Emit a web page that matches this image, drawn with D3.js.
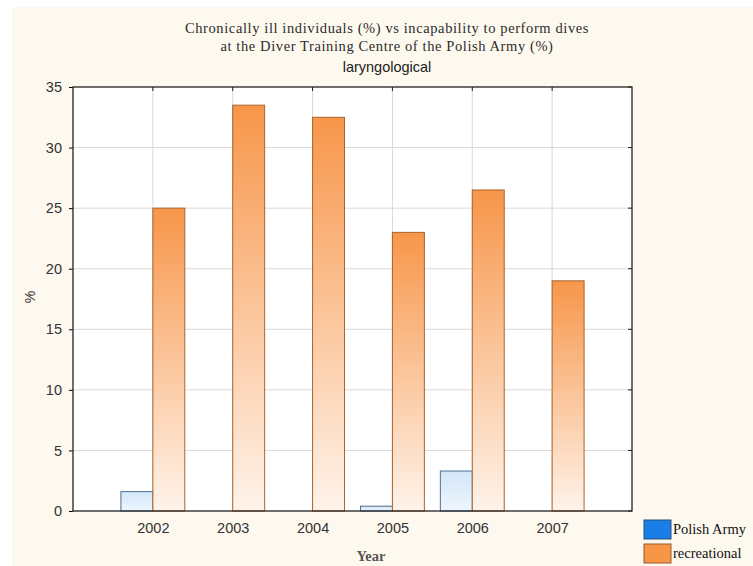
<!DOCTYPE html>
<html>
<head>
<meta charset="utf-8">
<script src="https://cdn.jsdelivr.net/npm/d3@7"></script>
<style>
  body { margin: 0; background: #fff; }
  svg { display: block; }
</style>
</head>
<body>
<div id="chart"></div>
<script>
var years = [2002, 2003, 2004, 2005, 2006, 2007];
var polishArmy = [1.6, 0, 0, 0.4, 3.3, 0];
var recreational = [25, 33.5, 32.5, 23, 26.5, 19];
var yTicks = [0, 5, 10, 15, 20, 25, 30, 35];
var seriesNames = ["Polish Army", "recreational"];

var W = 753, H = 566;
var margin = {top: 87, right: 121, bottom: 55, left: 73},
    width = W - margin.left - margin.right,
    height = H - margin.top - margin.bottom;

var svg = d3.select("#chart").append("svg")
  .attr("width", W)
  .attr("height", H);

// cream background
svg.append("rect")
  .attr("x", 12).attr("y", 7)
  .attr("width", W - 12).attr("height", H - 7)
  .attr("fill", "#fef9ef");

var defs = svg.append("defs");
var og = defs.append("linearGradient").attr("id", "gOrange")
  .attr("x1", 0).attr("y1", 0).attr("x2", 0).attr("y2", 1);
og.append("stop").attr("offset", "0%").attr("stop-color", "#f7964a");
og.append("stop").attr("offset", "100%").attr("stop-color", "#fff3ea");
var bg = defs.append("linearGradient").attr("id", "gBlue")
  .attr("x1", 0).attr("y1", 0).attr("x2", 0).attr("y2", 1);
bg.append("stop").attr("offset", "0%").attr("stop-color", "#d3e6f8");
bg.append("stop").attr("offset", "100%").attr("stop-color", "#eef6fd");

var x = d3.scaleLinear().domain([2001, 2008]).range([0, width]);
var y = d3.scaleLinear().domain([0, 35]).range([height, 0]);

var g = svg.append("g")
  .attr("transform", "translate(" + margin.left + "," + margin.top + ")");

g.append("rect")
  .attr("width", width).attr("height", height)
  .attr("fill", "#fff");

// grid
g.selectAll(".hgrid").data(yTicks.slice(1, -1)).enter().append("line")
  .attr("x1", 0).attr("x2", width)
  .attr("y1", d => y(d)).attr("y2", d => y(d))
  .attr("stroke", "#d9d9d9");
g.selectAll(".vgrid").data(years).enter().append("line")
  .attr("x1", d => x(d)).attr("x2", d => x(d))
  .attr("y1", 0).attr("y2", height)
  .attr("stroke", "#d9d9d9");

var bw = x(2001.4) - x(2001);

// bars
g.selectAll(".bar1").data(years).enter().append("rect")
  .attr("x", d => x(d) - bw)
  .attr("width", bw)
  .attr("y", (d, i) => y(polishArmy[i]))
  .attr("height", (d, i) => height - y(polishArmy[i]))
  .attr("fill", "url(#gBlue)")
  .attr("stroke", "#4f6f8f")
  .attr("stroke-width", 1)
  .style("display", (d, i) => polishArmy[i] > 0 ? null : "none");

g.selectAll(".bar2").data(years).enter().append("rect")
  .attr("x", d => x(d))
  .attr("width", bw)
  .attr("y", (d, i) => y(recreational[i]))
  .attr("height", (d, i) => height - y(recreational[i]))
  .attr("fill", "url(#gOrange)")
  .attr("stroke", "#a8652e")
  .attr("stroke-width", 1);

// axes
var yAxis = d3.axisLeft(y).tickValues(yTicks).tickSize(4).tickPadding(7);
var yg = g.append("g").call(yAxis);
yg.select(".domain").remove();
yg.selectAll("text")
  .style("font-family", "Liberation Sans, Arial, sans-serif")
  .style("font-size", "14.5px")
  .attr("fill", "#333");

var xAxis = d3.axisBottom(x).tickValues(years).tickFormat(d3.format("d")).tickSize(0).tickPadding(12);
var xg = g.append("g").attr("transform", "translate(0," + height + ")").call(xAxis);
xg.select(".domain").remove();
xg.selectAll("text")
  .style("font-family", "Liberation Sans, Arial, sans-serif")
  .style("font-size", "14.5px")
  .attr("fill", "#333");

// inner ticks on right and top
g.selectAll(".rtick").data(yTicks).enter().append("line")
  .attr("x1", width - 4).attr("x2", width)
  .attr("y1", d => y(d)).attr("y2", d => y(d))
  .attr("stroke", "#222");
g.selectAll(".ttick").data(years).enter().append("line")
  .attr("x1", d => x(d)).attr("x2", d => x(d))
  .attr("y1", 0).attr("y2", 4)
  .attr("stroke", "#222");

// frame
g.append("rect")
  .attr("width", width).attr("height", height)
  .attr("fill", "none")
  .attr("stroke", "#222")
  .attr("stroke-width", 1.3);

// titles
var serif = "Liberation Serif, Cambria, serif";
svg.append("text").attr("x", 387).attr("y", 33)
  .attr("text-anchor", "middle")
  .style("font-family", serif).style("font-size", "14.5px")
  .style("letter-spacing", "0.6px").attr("fill", "#2b2b2b")
  .text("Chronically ill individuals (%) vs incapability to perform dives");
svg.append("text").attr("x", 387).attr("y", 51)
  .attr("text-anchor", "middle")
  .style("font-family", serif).style("font-size", "14.5px")
  .style("letter-spacing", "0.6px").attr("fill", "#2b2b2b")
  .text("at the Diver Training Centre of the Polish Army (%)");
svg.append("text").attr("x", 387).attr("y", 72)
  .attr("text-anchor", "middle")
  .style("font-family", "Liberation Sans, Arial, sans-serif").style("font-size", "14.5px").attr("fill", "#222")
  .text("laryngological");

svg.append("text").attr("x", 371).attr("y", 561)
  .attr("text-anchor", "middle")
  .style("font-family", serif).style("font-size", "14.5px").style("font-weight", "bold").attr("fill", "#555")
  .text("Year");

svg.append("text")
  .attr("transform", "translate(35,297) rotate(-90)")
  .attr("text-anchor", "middle")
  .style("font-family", "Liberation Sans, Arial, sans-serif").style("font-size", "14px").attr("fill", "#333")
  .text("%");

// legend
var legendColors = ["#1a7ee8", "#f79646"];
var legendStroke = ["#2a4e7a", "#9a5a2a"];
var legend = svg.append("g").selectAll("g").data(seriesNames).enter().append("g")
  .attr("transform", (d, i) => "translate(644," + (520 + i * 24) + ")");
legend.append("rect")
  .attr("width", 27).attr("height", 19)
  .attr("fill", (d, i) => legendColors[i])
  .attr("stroke", (d, i) => legendStroke[i]);
legend.append("text")
  .attr("x", 29).attr("y", 14)
  .style("font-family", serif).style("font-size", "14.5px")
  .attr("fill", "#111")
  .text(d => d);
</script>
</body>
</html>
